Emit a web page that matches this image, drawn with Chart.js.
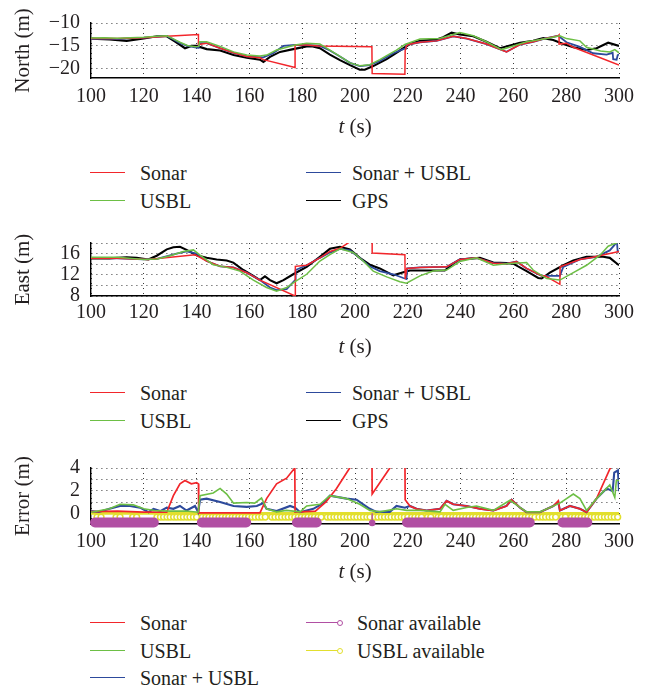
<!DOCTYPE html>
<html>
<head>
<meta charset="utf-8">
<script src="https://cdn.jsdelivr.net/npm/chart.js@4.4.1/dist/chart.umd.min.js"></script>
<style>
  body { margin: 0; background: #fff; width: 648px; height: 688px; position: relative; overflow: hidden;
         font-family: "Liberation Serif", "DejaVu Serif", serif; color: #231f20; }
  canvas.panel { position: absolute; left: 0; }
  .lg-line { position: absolute; height: 0; }
  .lg-dot { position: absolute; width: 4px; height: 4px; border-radius: 50%; background: #fff; }
  .lg-text { position: absolute; font-size: 20px; line-height: 24px; white-space: nowrap; }
</style>
</head>
<body>
<canvas id="north" class="panel" width="648" height="140" style="top:0px"></canvas>
<canvas id="east" class="panel" width="648" height="140" style="top:220px"></canvas>
<canvas id="error" class="panel" width="648" height="140" style="top:445px"></canvas>

<script>
// ---- data: [time (s), value] ----
const xTicks = [100, 120, 140, 160, 180, 200, 220, 240, 260, 280, 300];

const northTicks = [-20, -15, -10];
const northLabels = [-20, -15, -10];
const eastTicks = [8, 10, 12, 14, 16, 18];
const eastLabels = [8, 12, 16];
const errTicks = [0, 1, 2, 3, 4];
const errLabels = [0, 2, 4];

const northGps = [[100,-13.4],[107,-13.6],[113.5,-13.9],[120,-13.4],[125,-12.9],[128.7,-12.9],[132,-14.1],[135.6,-15.5],
  [138,-15],[140,-15],[143.8,-15.7],[148.9,-16],[154,-17],[159,-17.6],[164,-18],[165.3,-18.5],[167.8,-17.4],[171.6,-16.3],
  [176.6,-15.7],[181.7,-15.1],[184,-15.1],[186.7,-15.5],[190.5,-16.9],[194.3,-18.1],[198.1,-19.2],[201.8,-20.2],[203.7,-20.2],
  [206.9,-19.4],[212,-17.9],[217,-16],[220.8,-14.6],[224.6,-13.9],[230.9,-13.6],[233.4,-13.1],[236.6,-12.1],[239.7,-12.5],
  [244.8,-12.9],[249.8,-14.1],[254.9,-15.5],[258.7,-14.9],[262.5,-14.3],[267.5,-13.9],[271.3,-13.3],[275.1,-13.7],
  [278.9,-14.6],[282.7,-15.3],[287.7,-15.9],[291.5,-15.5],[295.9,-14.3],[300,-15]];
const northSonar = [[100,-13.4],[110,-13.4],[120,-13.2],[128.7,-12.9],[140.7,-12.5],[140.7,-14.7],[143.8,-14.4],[148.9,-15.5],
  [154,-16.5],[159,-17.3],[164,-17.6],[165.3,-18],[177.3,-19.7],[177.3,-14.8],[181.7,-14.8],[186,-15],[206.4,-15.2],
  [206.5,-21],[218.9,-21.2],[219,-16],[219.5,-15],[220.2,-14.7],[224.6,-14.2],[230.9,-13.9],[237.2,-12.9],[242.3,-13.4],
  [249.8,-14.6],[257.4,-16.3],[262.5,-14.7],[267.5,-14.1],[272.6,-13.3],[277,-12.8],[277.3,-12.6],[277.3,-14.6],
  [280.1,-14.4],[282.7,-15.3],[300,-19.2]];
const northFused = [[100,-13.5],[105,-13.4],[110,-13.5],[115,-13.3],[120,-13.2],[125,-13],[128.7,-12.8],[131,-13.5],
  [133.7,-14.4],[136.5,-15],[139.4,-15.3],[140.6,-15.4],[140.8,-14.4],[143.8,-14.4],[148.9,-15.5],[154,-16.5],[159,-17.3],
  [165.3,-17.5],[169,-16.6],[172.9,-15],[177.3,-14.8],[181.7,-14.8],[186.7,-15],[190.5,-16],[194.3,-17.3],[198.1,-18.7],
  [201.8,-19.4],[205.6,-19.2],[209.4,-18.3],[214.5,-16.6],[218.3,-15.7],[219,-15.6],[219.3,-14.9],[220.2,-14.7],
  [224.6,-14.2],[230.9,-13.9],[237.2,-12.9],[242.3,-13.4],[249.8,-14.6],[257.4,-16.3],[262.5,-14.7],[267.5,-14.1],
  [272.6,-13.3],[277,-12.8],[280.1,-14.2],[285.2,-15.2],[290.2,-16.6],[295.3,-16.9],[297.6,-16.5],[297.8,-17.9],
  [299.1,-18],[299.5,-17],[300,-16.9]];
const northUsbl = [[100,-13.3],[105,-13.2],[110,-13.3],[115,-13.2],[120,-13.1],[125,-12.9],[128.7,-12.8],[131,-13.4],
  [133.7,-14.2],[136.5,-14.9],[139.4,-15.2],[140.8,-15.1],[141.2,-14.1],[143.8,-14.1],[148.9,-15.1],[154,-16.3],[159,-17],
  [164,-17.2],[166.5,-17],[170.3,-15.9],[177.3,-14.8],[181.7,-14.4],[186.7,-14.6],[190.5,-15.9],[194.3,-17.3],[198.1,-18.7],
  [201.8,-19.3],[205.6,-19.1],[209.4,-18],[212,-17.1],[215.7,-15.9],[218.9,-14.7],[224.6,-13.5],[232,-13.4],[239.7,-12.1],
  [244.8,-12.8],[249.8,-14.1],[255.5,-15.8],[260,-15],[265,-14.1],[272.6,-13.4],[277.6,-12.8],[280.1,-13.4],[285.2,-13.9],
  [287.7,-15.3],[293,-16.1],[296.5,-16.3],[298.4,-15.8],[300,-16.5]];

const eastGps = [[100,15.1],[107,15.1],[113.5,15.3],[117.3,15.2],[121.7,14.9],[124.9,15.6],[128.7,16.8],[131.2,17.2],
  [133.7,17.3],[136.2,16.7],[140,15.7],[143.8,15.2],[147.6,14.9],[151.4,14.7],[153.9,14.3],[157.7,12.9],[161.5,11.8],
  [164,11],[165.9,11.7],[167.8,11],[170.3,10.4],[172.9,11],[176.6,12.1],[181.7,13.5],[186.7,15.4],[190.5,16.9],
  [194.3,17.3],[198.1,16.8],[201.8,15.2],[205.6,13.9],[209.4,13.2],[214.5,11.9],[218.3,12.5],[220.8,12.8],[229.6,12.8],
  [234,12.8],[237.2,14.1],[239.7,14.9],[244.8,15.1],[247.3,15.2],[252.4,14.3],[257.4,14.2],[259.9,14.1],[265,12.7],
  [269.4,11.4],[270.7,11.3],[273.8,12.4],[278.9,13.8],[282.7,14.7],[287.7,15.4],[294,15.4],[296.5,15.2],[300,13.8]];
const eastSonar = [[100,15.1],[110,15.1],[121.7,14.9],[139.4,15.8],[140,15.6],[143.8,14.6],[148.9,13.6],[153.9,13.4],
  [159,12.4],[164,11],[177.3,8],[177.4,13.6],[181.7,13.8],[186.7,15.2],[190.5,16.4],[194.3,17],[198,18.2],[206.4,21.5],
  [206.5,21.5],[206.5,16.1],[218.9,15.8],[219,11.2],[219.6,13.2],[224.6,13.4],[234.7,13.5],[239.7,14.9],[246,15.2],
  [252.4,14.2],[257.4,14.1],[261.2,14.5],[265,13.2],[270.7,11.8],[272,11.8],[277.6,10.2],[277.7,13.5],[285.2,14.9],
  [290,15.3],[300,16.4]];
const eastFused = [[100,15.2],[110,15.1],[120,14.9],[125,15],[132.4,16],[136.2,16.4],[140,16],[143.8,14.6],[148.9,13.6],
  [153.9,13.4],[159,12.4],[164,11],[167.8,9.6],[170.3,9.1],[174.1,9.3],[177.3,11],[177.5,12.9],[181.7,13.8],[186.7,15.2],
  [190.5,16.2],[194.3,16.9],[198.1,16.6],[201.8,15.2],[205.6,13.6],[209.4,12.7],[214.5,12.1],[218.3,11.4],[219.5,11.2],
  [219.8,13.2],[224.6,13.4],[234.7,13.5],[239.7,14.9],[246,15.2],[252.4,14.2],[257.4,14.1],[261.2,14.5],[265,13.2],
  [270.7,11.8],[277.6,11.8],[278.9,13.5],[285.2,14.9],[291.5,15.4],[296.5,16.6],[298.4,17.7],[299.2,18.3],[299.5,16.4],
  [300,16.4]];
const eastUsbl = [[100,15.3],[110,15.3],[120,14.9],[125,15],[130,15.6],[135,16.4],[138.8,16.7],[141.3,15.7],[146.3,13.9],
  [151.4,13.4],[156.4,12.7],[161.5,11],[166.5,9.6],[170.3,8.9],[174.1,9.6],[177.3,10.7],[181.7,12.1],[186.7,14.6],
  [190.5,15.8],[194.3,16.9],[199.3,16.2],[203.1,14.6],[206.9,12.7],[212,11.6],[217,10.7],[219.5,10.4],[224.6,11.8],
  [229.6,12.7],[234.7,12.9],[239.7,14.5],[246,15.2],[252.4,13.8],[257.4,14.1],[265,14.3],[267.5,12.9],[272.6,11.3],
  [277.6,11],[282.7,12.4],[287.7,13.8],[292.8,15.7],[295.9,17.4],[298.4,17.9],[300,18.2]];

const errSonar = [[100,0.15],[110,0.2],[120,0.1],[128.7,0.1],[131.2,1.56],[133.7,2.6],[135.6,2.9],[138,2.6],[140,2.7],
  [140.7,2.6],[140.8,0.05],[164,0.05],[166.5,1.3],[170.3,2.6],[174.1,3.1],[177.2,4],[177.3,0.1],[185,0.2],[189,1],
  [193,2.2],[198,4],[206.4,6],[206.5,1.7],[213.2,4],[218.9,5.5],[219,1.2],[220.8,0.65],[223.3,0.4],[227.1,0.25],
  [232.2,0.4],[234.7,1.1],[237.2,0.8],[242.3,0.65],[247.3,0.4],[252.4,0.25],[257.4,0.65],[259.3,1.2],[262.5,0.5],
  [265,0.1],[270,0.1],[275.1,0.65],[277,1.1],[277.6,0.25],[281.4,0.65],[285.2,0.4],[287.7,0.1],[291.5,1.3],
  [296.5,3.9],[300,5.2]];
const errFused = [[100,0.2],[103,0.12],[107,0.4],[111,0.65],[114.8,0.65],[118.6,0.5],[121.8,0.1],[123.7,0.4],[126.2,0.2],
  [128.7,0.5],[131.2,0.4],[133.7,0.65],[136.2,0.25],[139.4,0.65],[140.6,0.1],[141.3,1.2],[143.8,1.3],[148.9,1],[154,0.65],
  [159,0.57],[162.8,0.65],[165.3,0.9],[166.5,0.4],[170.3,0.2],[175.4,0.65],[177.3,0.5],[179.2,0.1],[184.2,0.4],[188,0.9],
  [190.5,1.56],[196.8,1.3],[200.6,1.2],[203.1,0.8],[205.6,0.4],[208.1,0.13],[213.2,0.13],[215.7,0.65],[218.9,0.5],
  [220.8,0.65],[223.3,0.4],[227.1,0.25],[232.2,0.4],[234.7,1.1],[237.2,0.8],[242.3,0.65],[247.3,0.4],[252.4,0.25],
  [257.4,0.65],[259.3,1.2],[262.5,0.5],[265,0.1],[270,0.1],[275.1,0.65],[277,1],[277.6,0.25],[281.4,0.65],[285.2,0.4],
  [287.7,0.1],[291.5,1.3],[295.3,2.2],[297.6,1.95],[298.2,3.6],[299.6,3.8],[300,1.95]];
const errUsbl = [[100,0.1],[107,0.4],[111,0.8],[116,0.75],[120,0.4],[124,0.25],[130,0.2],[136,0.2],[140.6,0.1],
  [141.3,1.56],[146.3,1.8],[148.9,2.2],[151.4,1.7],[154,0.9],[159,0.96],[162,0.9],[164.6,1.35],[166.5,0.4],[170.3,0.13],
  [174,0.26],[179.2,0.13],[181.7,0.65],[186.7,0.8],[190.5,1.56],[196.8,1.3],[201.8,0.8],[205.6,0.26],[209.4,0.13],
  [215.7,0.4],[219.5,0.26],[224.6,0.26],[232.2,0.13],[234.1,0.8],[237.2,0.26],[242.3,0.52],[246,0.65],[252.4,0.26],
  [258.7,1.15],[262.5,0.52],[265,0.13],[270,0.13],[277.6,0.9],[282.7,1.7],[285.2,1.3],[287.7,0.26],[291.5,1.3],
  [296.5,2.5],[298.4,1.4],[299,2.9],[300,2.9]];

// sensor availability: sonar sample runs (s), isolated sonar samples, USBL fix times
const sonarRuns = [[101.5, 123.8], [142, 158.8], [178, 185.5], [219.7, 266.2], [278.6, 288]];
const sonarSingles = [206.5];
const usblFixes = [102.3, 103.8, 109.5, 111, 115.8, 117.3,
  125, 126.3, 127.5, 128.8, 130, 131.3, 132.5, 133.8, 135, 136.3, 137.5, 138.8, 140,
  142.2, 143.5, 144.7, 146, 147.2, 148.5, 149.7, 151, 152.2, 153.5, 154.7, 156, 157.2, 158.5, 159.7, 161, 162.2, 163.5, 164.7, 166,
  168.5, 169.7, 171, 172.2, 173.5, 174.7, 176, 177.2, 178.5, 179.7, 181, 182.2, 183.5, 184.7, 186, 187.2,
  189.5, 190.7, 192, 193.2, 194.5, 195.7, 197, 198.2, 199.5, 200.7, 202, 203.2, 204.5, 205.7,
  207.5, 208.7, 210, 211.2, 212.5, 213.7, 215, 216.2, 217.5, 218.7, 220,
  221.5, 222.7, 224, 225.2, 227.5, 228.7, 231.5, 232.7,
  234.5, 235.7, 237, 238.2, 239.5, 240.7, 242, 243.2, 244.5, 245.7, 247, 248.2, 249.5, 250.7, 252, 253.2, 254.5, 255.7,
  257, 258.2, 259.5, 260.7, 262, 263.2, 264.5, 265.7, 267, 268.2,
  269.7, 271, 272.2, 273.5, 274.7, 276,
  278.5, 279.7, 282, 283.2, 284.5, 285.7, 287, 288.2, 289.5,
  290.7, 292, 293.2, 294.5, 295.7, 297, 298.2, 299.5];

const RED = '#f2262b', GREEN = '#6dbf45', BLUE = '#2d4a9c', BLACK = '#000000';
const MAGENTA = '#b14fa3', YELLOW = '#e2df2e';
const TEXT = '#231f20';
const SERIF = '"Liberation Serif", "DejaVu Serif", serif';

const pts = arr => arr.map(([x, y]) => ({ x, y }));
const minus = v => String(v).replace('-', '\u2212');

function line(data, color, width) {
  return { data: pts(data), borderColor: color, borderWidth: width, pointRadius: 0, tension: 0, fill: false };
}

// italic "t" followed by upright " (s)" under the plot area
const timeTitle = {
  id: 'timeTitle',
  afterDraw(chart) {
    const { ctx, chartArea } = chart;
    const cx = (chartArea.left + chartArea.right) / 2;
    const y = 127;
    ctx.save();
    ctx.fillStyle = TEXT;
    ctx.textBaseline = 'middle';
    ctx.textAlign = 'left';
    ctx.font = 'italic 21px ' + SERIF;
    const w1 = ctx.measureText('t').width;
    ctx.font = '21px ' + SERIF;
    const w2 = ctx.measureText(' (s)').width;
    const x0 = cx - (w1 + w2) / 2;
    ctx.font = 'italic 21px ' + SERIF;
    ctx.fillText('t', x0, y);
    ctx.font = '21px ' + SERIF;
    ctx.fillText(' (s)', x0 + w1, y);
    ctx.restore();
  }
};

function panel(id, o) {
  const grid = { color: '#3a3a3a', lineWidth: 1, drawTicks: false };
  const border = { display: true, color: '#000', width: 1.4, dash: [1, 4] };
  return new Chart(document.getElementById(id), {
    type: 'line',
    data: { datasets: o.datasets },
    plugins: [timeTitle],
    options: {
      responsive: false,
      animation: false,
      layout: { padding: { top: o.top, right: 29, left: 0, bottom: 0 } },
      plugins: { legend: { display: false }, tooltip: { enabled: false } },
      scales: {
        x: {
          type: 'linear', min: 100, max: 300,
          afterBuildTicks: s => { s.ticks = xTicks.map(v => ({ value: v })); },
          afterFit: s => { s.height = o.xh; },
          grid, border,
          ticks: { color: TEXT, font: { family: SERIF, size: 20 }, padding: o.xpad, maxRotation: 0, autoSkip: false }
        },
        y: {
          min: o.min, max: o.max,
          afterBuildTicks: s => { s.ticks = o.ticks.map(v => ({ value: v })); },
          afterFit: s => { s.width = 91; },
          grid, border,
          ticks: {
            color: TEXT, font: { family: SERIF, size: 20 }, padding: 11, autoSkip: false,
            callback: v => (o.labels.includes(v) ? minus(v) : '')
          },
          title: { display: true, text: o.title, color: TEXT, font: { family: SERIF, size: 21 }, padding: { top: 11, bottom: 0 } }
        }
      }
    }
  });
}

panel('north', {
  top: 16, xh: 62, xpad: 7, min: -22, max: -10, ticks: northTicks, labels: northLabels, title: 'North (m)',
  datasets: [line(northUsbl, GREEN, 1.5), line(northSonar, RED, 1.5), line(northFused, BLUE, 1.8), line(northGps, BLACK, 2.1)]
});

panel('east', {
  top: 16, xh: 64, xpad: 5, min: 8, max: 18, ticks: eastTicks, labels: eastLabels, title: 'East (m)',
  datasets: [line(eastUsbl, GREEN, 1.5), line(eastSonar, RED, 1.5), line(eastFused, BLUE, 1.8), line(eastGps, BLACK, 2.1)]
});

// availability traces in the error panel
const sonarBand = [];
sonarRuns.forEach(([a, b]) => { sonarBand.push({ x: a, y: -0.8 }, { x: b, y: -0.8 }, { x: b, y: null }); });
const sonarStem = [];
sonarSingles.forEach(t => { sonarStem.push({ x: t, y: 0 }, { x: t, y: -0.85 }, { x: t, y: null }); });
const usblStem = [];
usblFixes.forEach(t => { usblStem.push({ x: t, y: 0 }, { x: t, y: -0.33 }, { x: t, y: null }); });
const tip = r => c => (c.raw && c.raw.y !== null && c.raw.y < 0 ? r : 0);

panel('error', {
  top: 16, xh: 61, xpad: 6, min: -0.94, max: 4, ticks: errTicks, labels: errLabels, title: 'Error (m)',
  datasets: [
    line(errUsbl, GREEN, 1.6), line(errSonar, RED, 1.7), line(errFused, BLUE, 2.1),
    { data: sonarBand, borderColor: MAGENTA, borderWidth: 10, borderCapStyle: 'round', pointRadius: 0, spanGaps: false, clip: false },
    { data: sonarStem, borderColor: MAGENTA, borderWidth: 1.4, pointRadius: tip(2.6), pointBorderColor: MAGENTA,
      pointBackgroundColor: MAGENTA, spanGaps: false, clip: false },
    { data: [{ x: 100, y: 0 }, { x: 300, y: 0 }], borderColor: YELLOW, borderWidth: 2.6, pointRadius: 0 },
    { data: usblStem, borderColor: YELLOW, borderWidth: 1.4, pointRadius: tip(2.9), pointBorderColor: YELLOW, pointBorderWidth: 1.5,
      pointBackgroundColor: '#ffffff', spanGaps: false, clip: false }
  ]
});

// two-column legends below each panel
const posLegend = [['Sonar', RED], ['USBL', GREEN], ['Sonar + USBL', BLUE], ['GPS', BLACK]];
const errLegend = [['Sonar', RED], ['USBL', GREEN], ['Sonar + USBL', BLUE], ['Sonar available', MAGENTA, true], ['USBL available', YELLOW, true]];

function legend(top, entries, perCol, col2Text) {
  entries.forEach(([label, color, marker], i) => {
    const col = Math.floor(i / perCol), row = i % perCol;
    const y = top + row * 27.5;
    const x = col ? 306 : 90;
    const ln = document.createElement('div');
    ln.className = 'lg-line';
    ln.style.cssText = `left:${x}px;top:${y - 0.75}px;width:35px;border-top:1.5px solid ${color}`;
    document.body.appendChild(ln);
    if (marker) {
      const d = document.createElement('div');
      d.className = 'lg-dot';
      d.style.cssText = `left:${x + 31}px;top:${y - 3}px;border:1.2px solid ${color}`;
      document.body.appendChild(d);
    }
    const t = document.createElement('div');
    t.className = 'lg-text';
    t.textContent = label;
    t.style.left = (col ? col2Text : 140) + 'px';
    t.style.top = (y - 12) + 'px';
    document.body.appendChild(t);
  });
}
legend(173, posLegend, 2, 352);
legend(393, posLegend, 2, 352);
legend(623, errLegend, 3, 357);
</script>
</body>
</html>
